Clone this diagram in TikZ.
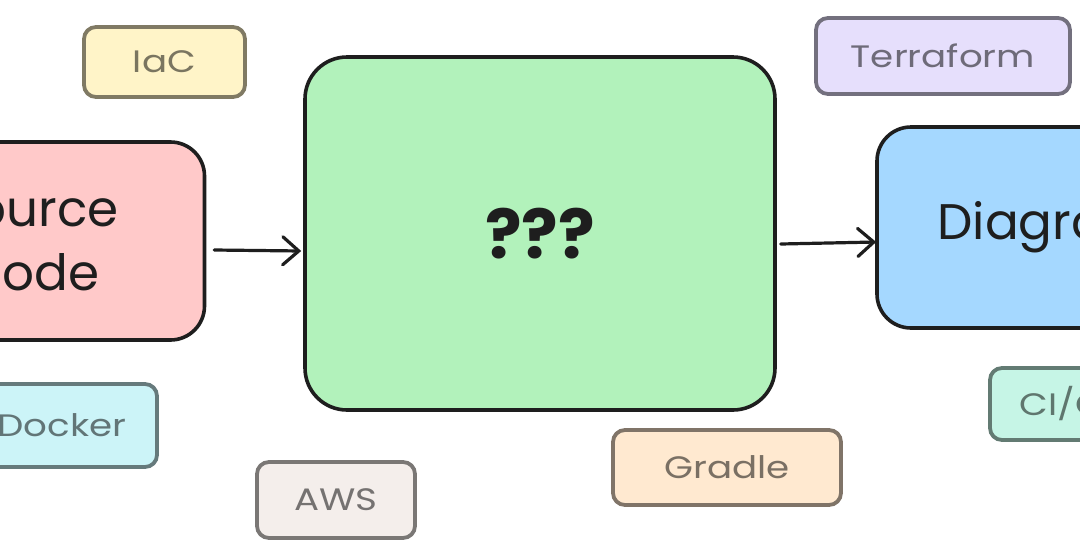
\documentclass[tikz,border=0pt]{standalone}
\usepackage{fontspec}
\setmainfont{Poppins}
\newfontfamily\tagfont[FakeStretch=1.2]{Poppins}
\usetikzlibrary{arrows.meta}
\definecolor{ink}{HTML}{1E1E1E}
\definecolor{srcf}{HTML}{FFC9C9}
\definecolor{midf}{HTML}{B2F2BB}
\definecolor{diaf}{HTML}{A5D8FF}
\definecolor{iacf}{HTML}{FFF4C8}
\definecolor{terf}{HTML}{E6DFFC}
\definecolor{dckf}{HTML}{CCF4F8}
\definecolor{awsf}{HTML}{F4EEEB}
\definecolor{grdf}{HTML}{FFE9D0}
\definecolor{cicf}{HTML}{C6F5E6}
\begin{document}
\begin{tikzpicture}[x=1pt,y=1pt,
  bigbox/.style={draw=ink, line width=3.6pt, rounded corners=34pt, inner sep=0pt,
    align=center, text=ink, font=\fontsize{50}{64}\selectfont},
  tag/.style={fill=#1, draw=#1!50!black, text=#1!48!black, line width=3.8pt,
    rounded corners=12pt, inner sep=0pt, font=\tagfont\fontsize{31}{36}\selectfont},
  arr/.style={draw=ink, line width=3.2pt, line cap=round,
    -{Straight Barb[length=16pt,width=28pt,line cap=round]}}]
\useasboundingbox (0,0) rectangle (1080,-558);
\clip (0,0) rectangle (1080,-558);
\fill[white] (0,0) rectangle (1080,-558);

\node[bigbox, fill=srcf, minimum width=345pt, minimum height=198pt] (src) at (32,-241) {Source\\Code};
\node[bigbox, fill=midf, minimum width=470pt, minimum height=353pt, rounded corners=42pt,
  font=\fontsize{68}{80}\selectfont\bfseries] (mid) at (540,-233.5) {???};
\node[bigbox, fill=diaf, minimum width=340pt, minimum height=201pt] (diag) at (1047,-227.5) {Diagram};

\node[tag=iacf, minimum width=161pt, minimum height=70pt] (iac) at (164.5,-62) {IaC};
\node[tag=terf, minimum width=254pt, minimum height=76pt] (ter) at (943,-56) {Terraform};
\node[tag=dckf, minimum width=190pt, minimum height=83pt] (dck) at (62,-425.5) {Docker};
\node[tag=awsf, minimum width=158pt, minimum height=76pt] (aws) at (336,-500) {AWS};
\node[tag=grdf, minimum width=228pt, minimum height=75pt] (grd) at (727,-467.5) {Gradle};
\node[tag=cicf, minimum width=170pt, minimum height=72pt] (cic) at (1075,-404) {CI/CD};

\draw[arr] ([xshift=8pt,yshift=-9pt]src.east) -- ([xshift=-2pt,yshift=-17.5pt]mid.west);
\draw[arr] ([xshift=4pt,yshift=-10.5pt]mid.east) -- ([xshift=1pt,yshift=-14.5pt]diag.west);
\end{tikzpicture}
\end{document}
